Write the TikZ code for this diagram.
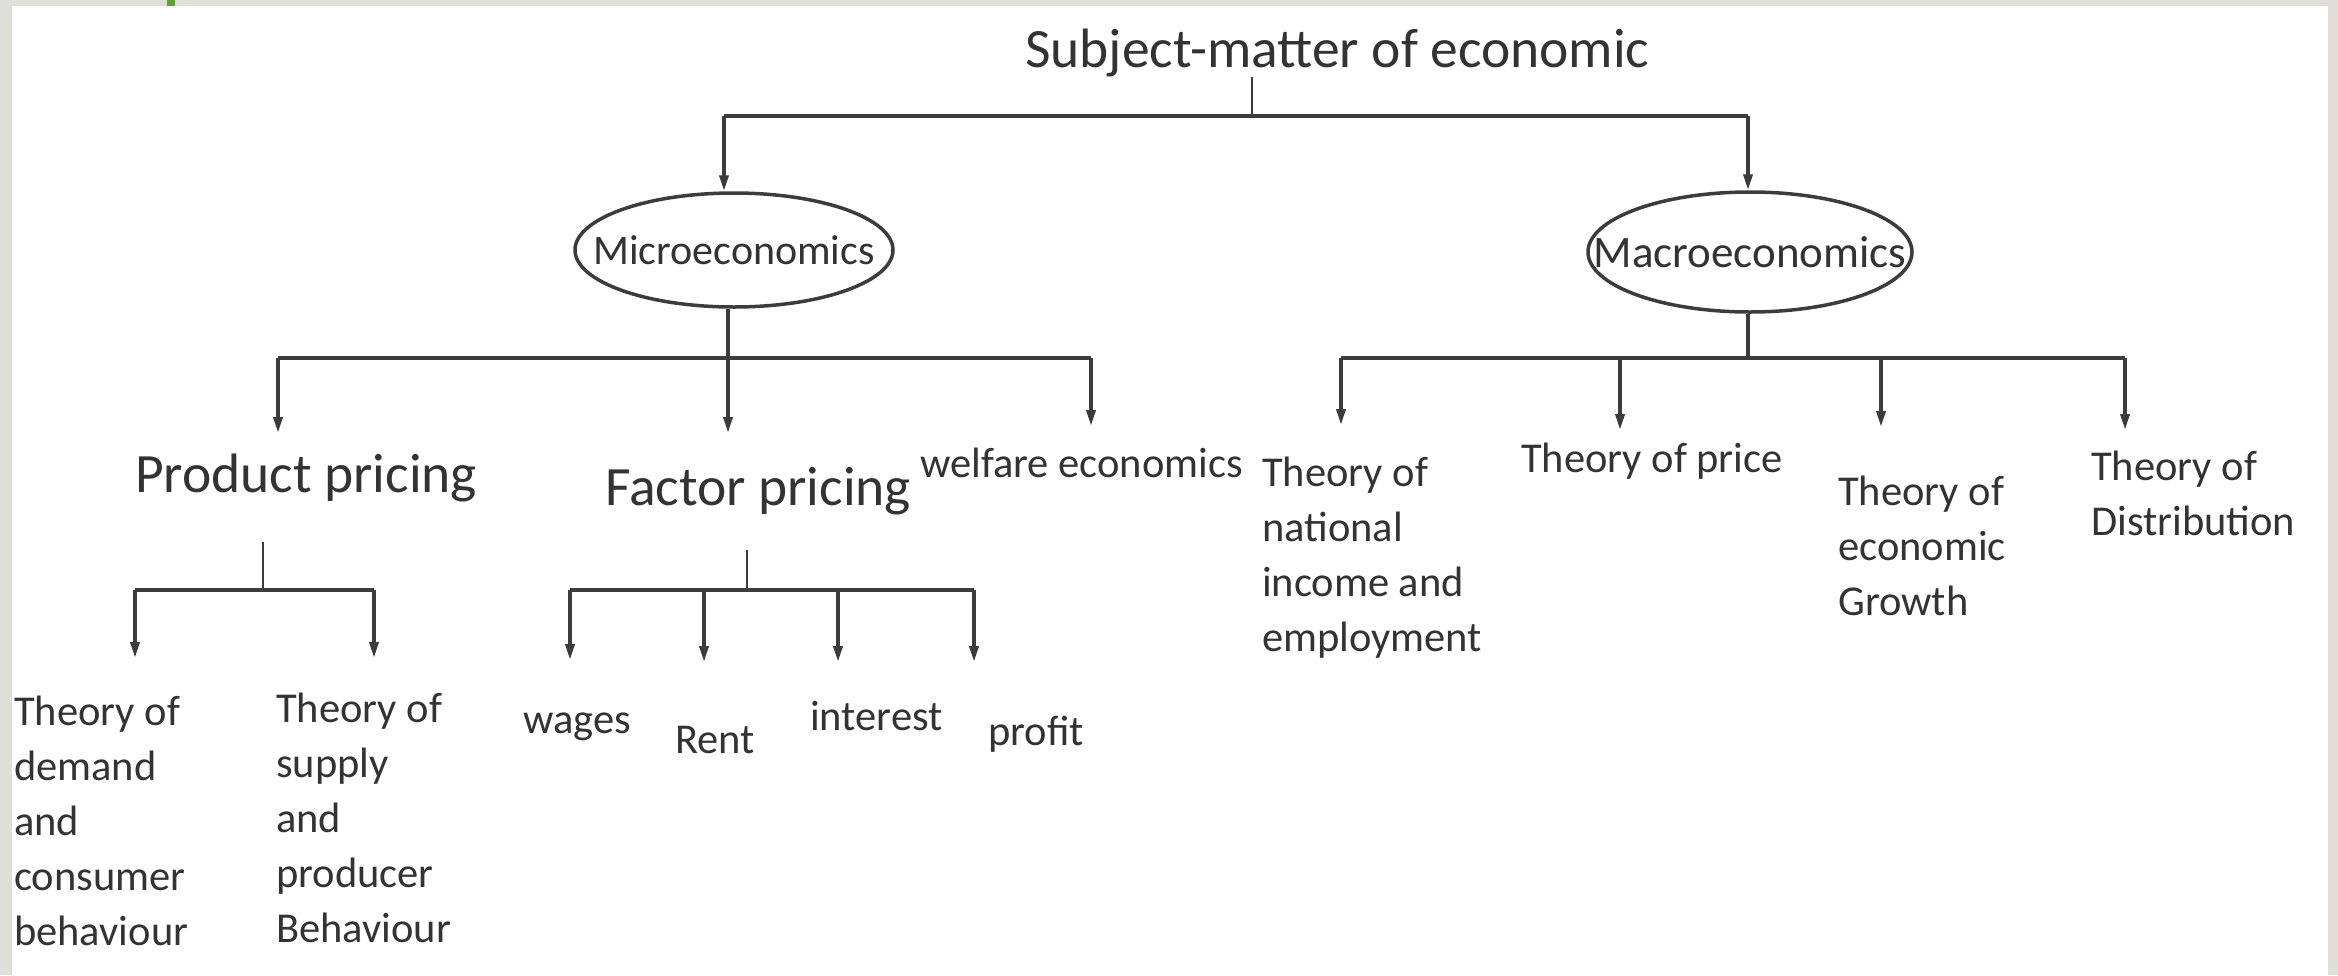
\documentclass[tikz,border=0pt]{standalone}
\usepackage{fontspec}
\setmainfont{Carlito}
\usetikzlibrary{arrows.meta,shapes.geometric}
\definecolor{framegrey}{HTML}{E0DED9}
\definecolor{greenmark}{HTML}{5BA332}
\definecolor{ink}{HTML}{333333}
\definecolor{lineink}{HTML}{3C3C3C}
\newcommand\fbig{\fontsize{55.5}{66}\selectfont}
\newcommand\fmicro{\fontsize{42}{50}\selectfont}
\newcommand\fmacro{\fontsize{45}{54}\selectfont}
\newcommand\fsmall{\fontsize{42.5}{55}\selectfont}
\begin{document}
\begin{tikzpicture}[x=1pt,y=-1pt,
  txt/.style={inner sep=0pt, text=ink, anchor=base west},
  bigtxt/.style={txt, font=\fbig},
  smalltxt/.style={txt, font=\fsmall, align=left},
  ell/.style={ellipse, draw=lineink, line width=3.5pt, inner sep=0pt, text=ink},
  conn/.style={draw=lineink, line width=3.5pt},
  thin/.style={draw=lineink, line width=2.5pt},
  arr/.style={conn, -{Triangle[length=16pt,width=9pt]}}]
\useasboundingbox (0,0) rectangle (2338,975);
\fill[framegrey] (0,0) rectangle (2338,975);
\fill[white] (12,6) rectangle (2328,975);
\fill[greenmark] (167,0) rectangle (175,6);

% nodes (multi-line nodes are placed by the baseline of their last line)
\node[bigtxt] (title) at (1025,67) {Subject-matter of economic};
\node[ell, font=\fmicro, minimum width=318pt, minimum height=114pt] (micro) at (734,250) {\makebox[0pt]{Microeconomics}};
\node[ell, font=\fmacro, minimum width=324pt, minimum height=120pt] (macro) at (1750,252) {\makebox[0pt]{Macroeconomics}};

\node[bigtxt] (prod) at (135,492) {Product pricing};
\node[bigtxt] (fact) at (605,505) {Factor pricing};
\node[smalltxt] (welf) at (920,477) {welfare economics};
\node[smalltxt] (nat) at (1262,651) {Theory of\\national\\income and\\employment};
\node[smalltxt] (price) at (1521,472) {Theory of price};
\node[smalltxt] (grow) at (1838,615) {Theory of\\economic\\Growth};
\node[smalltxt] (dist) at (2091,535) {Theory of\\Distribution};

\node[smalltxt] (dem) at (14,945) {Theory of\\demand\\and\\consumer\\behaviour};
\node[smalltxt] (sup) at (276,942) {Theory of\\supply\\and\\producer\\Behaviour};
\node[smalltxt] (wag) at (523,733) {wages};
\node[smalltxt] (rent) at (675,753) {Rent};
\node[smalltxt] (int) at (810,730) {interest};
\node[smalltxt] (prof) at (988,745) {profit};

% junction coordinates
\coordinate (t0) at (1252,116);
\coordinate (tL) at (724,116);
\coordinate (tR) at (1748,116);
\coordinate (mj) at (728,358);
\coordinate (ml) at (278,358);
\coordinate (mr) at (1091,358);
\coordinate (Mj) at (1748,358);
\coordinate (M1) at (1341,358);
\coordinate (M2) at (1620,358);
\coordinate (M3) at (1881,358);
\coordinate (M4) at (2125,358);
\coordinate (pTop) at (263,542);
\coordinate (pj) at (263,590);
\coordinate (pl) at (135,590);
\coordinate (pr) at (374,590);
\coordinate (fTop) at (747,550);
\coordinate (fj) at (747,590);
\coordinate (f1) at (570,590);
\coordinate (f2) at (704,590);
\coordinate (f3) at (838,590);
\coordinate (f4) at (974,590);
% arrow tips
\coordinate (aProd) at (278,433);
\coordinate (aFact) at (728,433);
\coordinate (aWelf) at (1091,426);
\coordinate (aNat) at (1341,425);
\coordinate (aPrice) at (1620,430);
\coordinate (aGrow) at (1881,427);
\coordinate (aDist) at (2125,430);
\coordinate (aDem) at (135,658);
\coordinate (aSup) at (374,658);
\coordinate (aWag) at (570,660);
\coordinate (aRent) at (704,662);
\coordinate (aInt) at (838,662);
\coordinate (aProf) at (974,662);

% level 1
\draw[thin] (t0 |- title.south) -- (t0);
\draw[conn] (tL) -- (tR);
\draw[arr] (tL) -- (tL |- micro.north);
\draw[arr] (tR) -- (tR |- macro.north);

% micro branch
\draw[conn] (mj |- micro.south) -- (mj);
\draw[conn] (ml) -- (mr);
\draw[arr] (ml) -- (aProd);
\draw[arr] (mj) -- (aFact);
\draw[arr] (mr) -- (aWelf);

% macro branch
\draw[conn] (Mj |- macro.south) -- (Mj);
\draw[conn] (M1) -- (M4);
\draw[arr] (M1) -- (aNat);
\draw[arr] (M2) -- (aPrice);
\draw[arr] (M3) -- (aGrow);
\draw[arr] (M4) -- (aDist);

% product pricing
\draw[thin] (pTop) -- (pj);
\draw[conn] (pl) -- (pr);
\draw[arr] (pl) -- (aDem);
\draw[arr] (pr) -- (aSup);

% factor pricing
\draw[thin] (fTop) -- (fj);
\draw[conn] (f1) -- (f4);
\draw[arr] (f1) -- (aWag);
\draw[arr] (f2) -- (aRent);
\draw[arr] (f3) -- (aInt);
\draw[arr] (f4) -- (aProf);
\end{tikzpicture}
\end{document}
